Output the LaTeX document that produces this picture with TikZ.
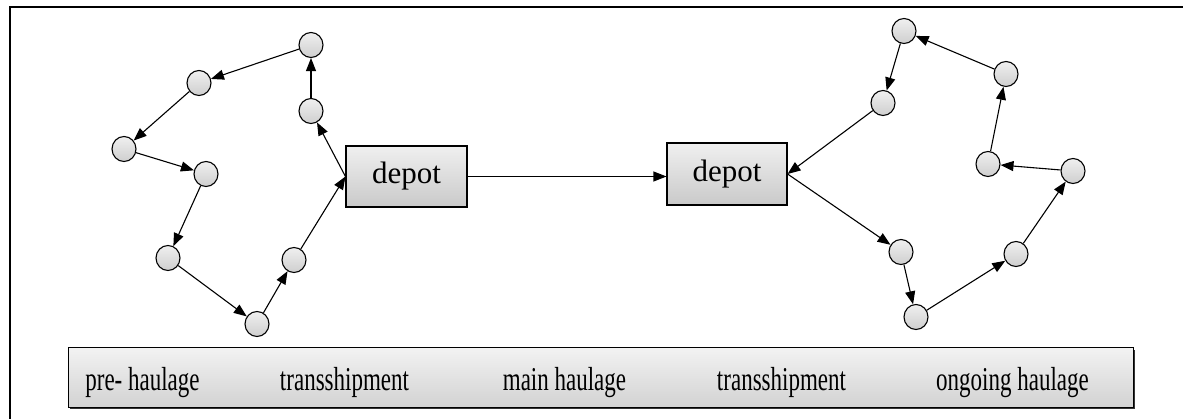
\documentclass[tikz,border=0pt]{standalone}
\usepackage{fontspec}
\setmainfont{Liberation Serif}
\usetikzlibrary{arrows.meta,shapes.geometric}
\begin{document}
\begin{tikzpicture}[x=1pt,y=-1pt,
  stop/.style={ellipse,draw=black,line width=1.1pt,minimum width=24pt,minimum height=25pt,inner sep=0pt,
    top color=gray!12,bottom color=gray!38},
  depotbox/.style={rectangle,draw=black,line width=1.1pt,minimum width=121pt,minimum height=61pt,inner sep=0pt,
    top color=gray!12,bottom color=gray!42,font=\fontsize{31}{36}\selectfont},
  route/.style={line width=1.1pt,-{Triangle[length=13pt,width=10pt]}},
  barlabel/.style={anchor=base,inner sep=0pt,font=\fontsize{23}{27}\selectfont}
]
\useasboundingbox (0,0) rectangle (1183,419);
% outer frame (top and left only)
\draw[line width=2pt] (9.5,419) -- (9.5,7.5) -- (1183,7.5);

% bottom bar
\fill[black!80] (70,350) rectangle (1135,409);
\node[rectangle,draw=black,line width=1pt,minimum width=1065pt,minimum height=59pt,inner sep=0pt,
  top color=gray!10,bottom color=gray!35] (bar) at (600.5,377.5) {};
\node[barlabel] (t1) at (142.5,390) {\scalebox{1}[1.45]{pre- haulage}};
\node[barlabel] (t2) at (344.5,390) {\scalebox{1}[1.45]{transshipment}};
\node[barlabel] (t3) at (564.5,390) {\scalebox{1}[1.45]{main haulage}};
\node[barlabel] (t4) at (781.5,390) {\scalebox{1}[1.45]{transshipment}};
\node[barlabel] (t5) at (1012.5,390) {\scalebox{1}[1.45]{ongoing haulage}};

% depots
\node[depotbox] (dl) at (406.5,176.5) {depot};
\node[depotbox,minimum width=120pt,minimum height=62pt] (dr) at (727,174) {depot};

% left tour
\node[stop] (a) at (311,45) {};
\node[stop] (b) at (199,83) {};
\node[stop] (c) at (124,149) {};
\node[stop] (d) at (206,174) {};
\node[stop] (e) at (168,258) {};
\node[stop] (f) at (257,324) {};
\node[stop] (g) at (294,260) {};
\node[stop] (h) at (311,111) {};

% right tour
\node[stop] (p) at (904,31) {};
\node[stop] (q) at (883,103) {};
\node[stop] (r) at (1006,74) {};
\node[stop] (s) at (988,164) {};
\node[stop] (t) at (1073,171) {};
\node[stop] (u) at (1016,254) {};
\node[stop] (v) at (916,317) {};
\node[stop] (w) at (901,252) {};

% main haulage
\draw[route] (dl.east) -- (dl.east -| dr.west);

% left connectors
\draw[route] (dl.west) -- (h);
\draw[route] (h) -- (a);
\draw[route] (a) -- (b);
\draw[route] (b) -- (c);
\draw[route] (c) -- (d);
\draw[route] (d) -- (e);
\draw[route] (e) -- (f);
\draw[route] (f) -- (g);
\draw[route] (g) -- (dl.west);

% right connectors
\draw[route] (dr.east) -- (w);
\draw[route] (w) -- (v);
\draw[route] (v) -- (u);
\draw[route] (u) -- (t);
\draw[route] (t) -- (s);
\draw[route] (s) -- (r);
\draw[route] (r) -- (p);
\draw[route] (p) -- (q);
\draw[route] (q) -- (dr.east);
\end{tikzpicture}
\end{document}
